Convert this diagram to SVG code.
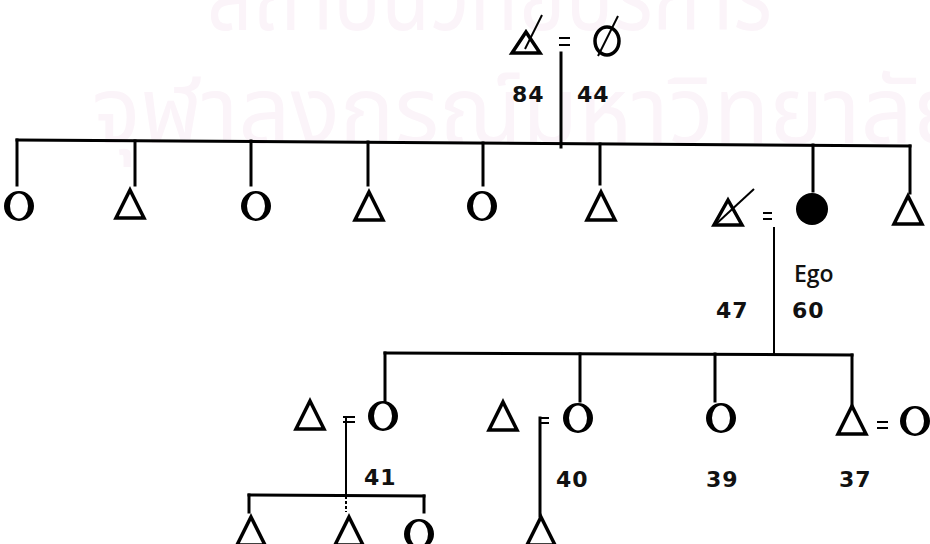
<svg xmlns="http://www.w3.org/2000/svg" xmlns:xlink="http://www.w3.org/1999/xlink" width="930" height="544" viewBox="0 0 930 544">
<style>
.ln{stroke:#000;stroke-width:3;fill:none;stroke-linecap:square}
.thin{stroke:#000;stroke-width:2;fill:none}
.tri{stroke:#000;stroke-width:3.5;fill:none;stroke-linejoin:miter}
.lbl{font-family:"DejaVu Sans","Liberation Sans",sans-serif;font-weight:bold;font-size:22px;fill:#111;letter-spacing:1px}
.ego{font-family:"Open Sans","Liberation Sans",sans-serif;font-weight:600;font-size:23px;fill:#111}
.wm{font-family:"Noto Sans Thai","Noto Sans","DejaVu Sans",sans-serif;fill:#fbf4f9}
</style>
<defs>
<path id="circ" d="M-15,0 a15,15 0 1,0 30,0 a15,15 0 1,0 -30,0 Z M-9,0 a9,12.5 0 1,0 18,0 a9,12.5 0 1,0 -18,0 Z" fill="#000" fill-rule="evenodd"/>
<path id="tri" class="tri" d="M0,-14 L14,14 L-14,14 Z"/>
</defs>
<rect width="930" height="544" fill="#fff"/>
<g id="watermark">
<text class="wm" x="207" y="30" font-size="100" textLength="565" lengthAdjust="spacingAndGlyphs">สถาบันวิทยบริการ</text>
<text class="wm" x="92" y="143" font-size="93" textLength="875" lengthAdjust="spacingAndGlyphs">จุฬาลงกรณ์มหาวิทยาลัย</text>
</g>
<g id="connectors">
<path class="ln" d="M561,53 V147"/>
<path class="ln" d="M17,140 L910,146"/>
<path class="ln" d="M17,140 V185"/>
<path class="ln" d="M135,141 V185"/>
<path class="ln" d="M251,141 V185"/>
<path class="ln" d="M368,142 V185"/>
<path class="ln" d="M483,143 V185"/>
<path class="ln" d="M600,144 V184"/>
<path class="ln" d="M813,145 V191"/>
<path class="ln" d="M910,146 V193"/>
<path class="thin" d="M774,227 V354"/>
<path class="ln" d="M385,353 L852,355"/>
<path class="ln" d="M385,353 V401"/>
<path class="ln" d="M580,354 V401"/>
<path class="ln" d="M715,354 V401"/>
<path class="ln" d="M852,355 V405"/>
<path class="thin" d="M346,418 V495"/>
<path class="ln" d="M249,495 L424,496"/>
<path class="ln" d="M249,495 V512"/>
<path class="ln" d="M424,496 V512"/>
<path class="thin" d="M346,496 V512" stroke-dasharray="3,2"/>
<path class="ln" d="M540,418 V516"/>
</g>
<g id="n-grandfather">
<path class="tri" d="M526,32 L540,53 L512,53 Z"/>
<path class="thin" d="M525,49 L542,15"/>
</g>
<g id="n-grandmother">
<ellipse cx="607" cy="41" rx="12" ry="14" fill="none" stroke="#000" stroke-width="3.5"/>
<path class="thin" d="M598,56 L618,16"/>
</g>
<g id="eq-top"><path class="thin" d="M559,38 H570 M559,45 H570"/></g>
<g id="t84"><text class="lbl" x="512" y="102">84</text></g>
<g id="t44"><text class="lbl" x="577" y="102">44</text></g>
<g id="n-s1"><use href="#circ" x="19" y="206"/></g>
<g id="n-s2"><use href="#tri" x="130" y="204"/></g>
<g id="n-s3"><use href="#circ" x="256" y="206"/></g>
<g id="n-s4"><use href="#tri" x="369" y="206"/></g>
<g id="n-s5"><use href="#circ" x="482" y="206"/></g>
<g id="n-s6"><use href="#tri" x="601" y="206"/></g>
<g id="n-husband">
<path class="tri" d="M728,200 L742,225 L714,225 Z"/>
<path class="thin" d="M715,225 L754,189"/>
</g>
<g id="eq-ego"><path class="thin" d="M763,213 H772 M763,219 H772"/></g>
<g id="n-ego"><circle cx="812" cy="209" r="16" fill="#000"/></g>
<g id="n-s8"><use href="#tri" x="908" y="210"/></g>
<g id="tEgo"><text class="ego" x="794" y="282">Ego</text></g>
<g id="t47"><text class="lbl" x="716" y="318">47</text></g>
<g id="t60"><text class="lbl" x="792" y="318">60</text></g>
<g id="n-c1-spouse"><use href="#tri" x="310" y="415"/></g>
<g id="eq-c1"><path class="thin" d="M343,417 H355 M343,422 H355"/></g>
<g id="n-c1"><use href="#circ" x="383" y="416"/></g>
<g id="n-c2-spouse"><use href="#tri" x="503" y="416"/></g>
<g id="eq-c2"><path class="thin" d="M539,418 H549 M539,423 H549"/></g>
<g id="n-c2"><use href="#circ" x="578" y="418"/></g>
<g id="n-c3"><use href="#circ" x="721" y="418"/></g>
<g id="n-c4"><use href="#tri" x="852" y="420"/></g>
<g id="eq-c4"><path class="thin" d="M877,422 H888 M877,428 H888"/></g>
<g id="n-c4-spouse"><use href="#circ" x="915" y="421"/></g>
<g id="t41"><text class="lbl" x="364" y="485">41</text></g>
<g id="t40"><text class="lbl" x="556" y="487">40</text></g>
<g id="t39"><text class="lbl" x="706" y="487">39</text></g>
<g id="t37"><text class="lbl" x="839" y="487">37</text></g>
<g id="n-g1"><use href="#tri" x="251" y="531"/></g>
<g id="n-g2"><use href="#tri" x="349" y="531"/></g>
<g id="n-g3"><use href="#circ" x="419" y="534"/></g>
<g id="n-g4"><use href="#tri" x="541" y="531"/></g>
</svg>
